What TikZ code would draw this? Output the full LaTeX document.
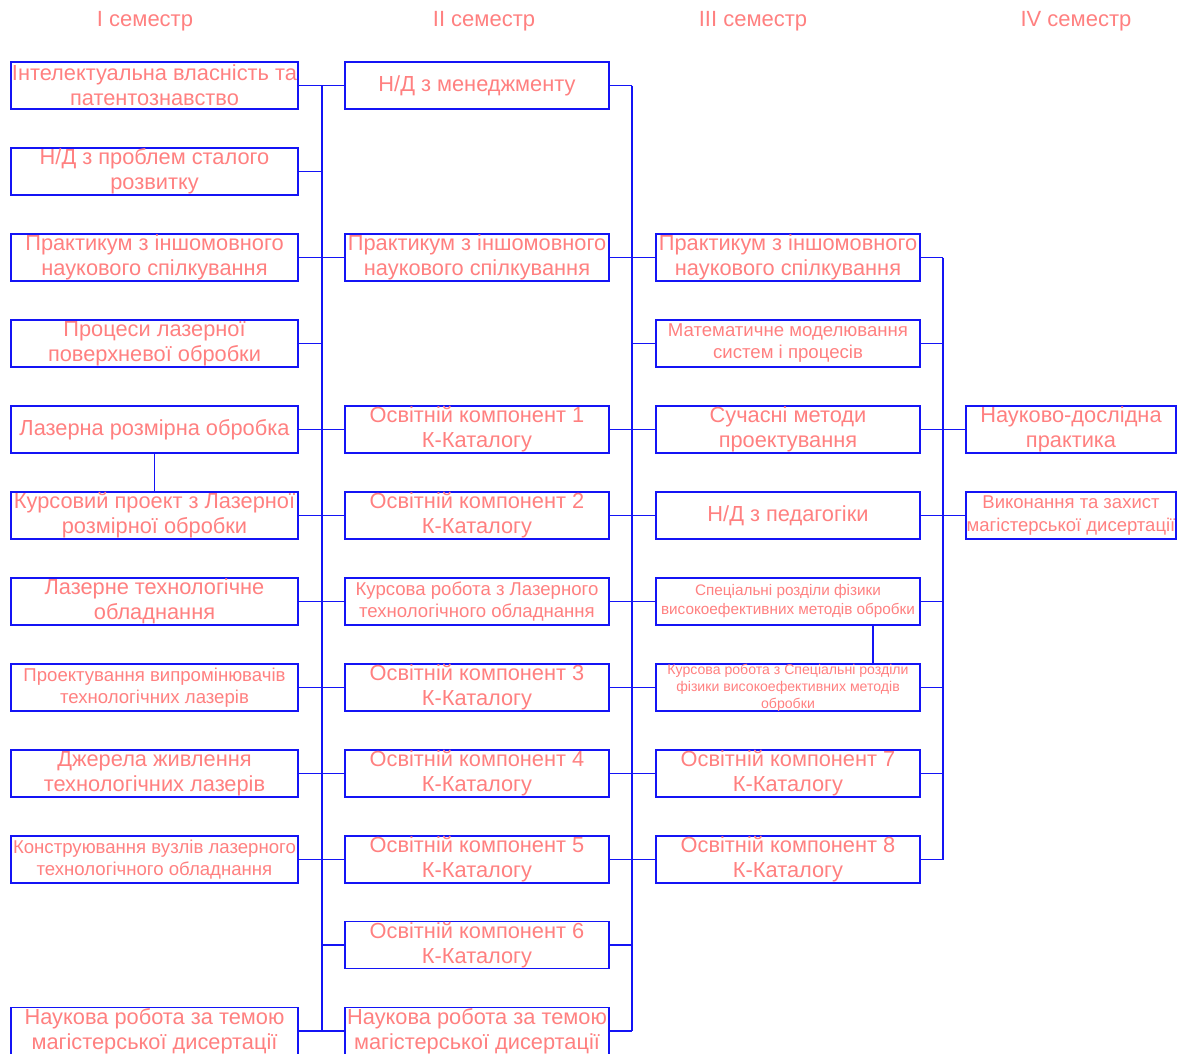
\documentclass[tikz,border=0pt]{standalone}
\usepackage{fontspec}
\setmainfont{Liberation Sans}
\usepackage{tikz}

\definecolor{busblue}{RGB}{20,20,245}
\definecolor{labelred}{RGB}{255,128,128}

\begin{document}
\begin{tikzpicture}[x=1pt, y=-1pt,
    cell/.style={draw=busblue, line width=1.3pt, text=labelred, align=center,
      inner sep=0pt, minimum height=47pt, font=\fontsize{21.8}{25}\selectfont},
    colA/.style={cell, minimum width=287pt},
    colB/.style={cell, minimum width=264pt},
    colC/.style={cell, minimum width=264pt},
    colD/.style={cell, minimum width=210pt},
    smaller/.style={font=\fontsize{18.6}{22}\selectfont},
    sem/.style={text=labelred, font=\fontsize{22}{26}\selectfont},
    bus/.style={draw=busblue, line width=1.3pt}]
    \useasboundingbox (0,0) rectangle (1185,1053);

    \def\xa{154.5}
    \def\xb{477}
    \def\xc{788}
    \def\xd{1071}

    \node[sem] (s1) at (145,21) {I семестр};
    \node[sem] (s2) at (484,21) {II семестр};
    \node[sem] (s3) at (753,21) {III семестр};
    \node[sem] (s4) at (1076,21) {IV семестр};

    % I semester
    \node[colA] (a1) at (\xa,85.5) {Інтелектуальна власність та\\патентознавство};
    \node[colA] (a2) at (\xa,171.5) {Н/Д з проблем сталого\\розвитку};
    \node[colA] (a3) at (\xa,257.5) {Практикум з іншомовного\\наукового спілкування};
    \node[colA] (a4) at (\xa,343.5) {Процеси лазерної\\поверхневої обробки};
    \node[colA] (a5) at (\xa,429.5) {Лазерна розмірна обробка};
    \node[colA] (a6) at (\xa,515.5) {Курсовий проект з Лазерної\\розмірної обробки};
    \node[colA] (a7) at (\xa,601.5) {Лазерне технологічне\\обладнання};
    \node[colA, smaller] (a8) at (\xa,687.5) {Проектування випромінювачів\\технологічних лазерів};
    \node[colA] (a9) at (\xa,773.5) {Джерела живлення\\технологічних лазерів};
    \node[colA, smaller] (a10) at (\xa,859.5) {Конструювання вузлів лазерного\\технологічного обладнання};
    \node[colA] (a12) at (\xa,1031) {Наукова робота за темою\\магістерської дисертації};

    % II semester
    \node[colB] (b1) at (\xb,85.5) {Н/Д з менеджменту};
    \node[colB] (b3) at (\xb,257.5) {Практикум з іншомовного\\наукового спілкування};
    \node[colB] (b5) at (\xb,429.5) {Освітній компонент 1\\К-Каталогу};
    \node[colB] (b6) at (\xb,515.5) {Освітній компонент 2\\К-Каталогу};
    \node[colB, smaller] (b7) at (\xb,601.5) {Курсова робота з Лазерного\\технологічного обладнання};
    \node[colB] (b8) at (\xb,687.5) {Освітній компонент 3\\К-Каталогу};
    \node[colB] (b9) at (\xb,773.5) {Освітній компонент 4\\К-Каталогу};
    \node[colB] (b10) at (\xb,859.5) {Освітній компонент 5\\К-Каталогу};
    \node[colB] (b11) at (\xb,945) {Освітній компонент 6\\К-Каталогу};
    \node[colB] (b12) at (\xb,1031) {Наукова робота за темою\\магістерської дисертації};

    % III semester
    \node[colC] (c3) at (\xc,257.5) {Практикум з іншомовного\\наукового спілкування};
    \node[colC, smaller] (c4) at (\xc,343.5) {Математичне моделювання\\систем і процесів};
    \node[colC] (c5) at (\xc,429.5) {Сучасні методи\\проектування};
    \node[colC] (c6) at (\xc,515.5) {Н/Д з педагогіки};
    \node[colC, font=\fontsize{15.3}{19}\selectfont] (c7) at (\xc,601.5) {Спеціальні розділи фізики\\високоефективних методів обробки};
    \node[colC, font=\fontsize{14.1}{17}\selectfont] (c8) at (\xc,687.5) {Курсова робота з Спеціальні розділи\\фізики високоефективних методів\\обробки};
    \node[colC] (c9) at (\xc,773.5) {Освітній компонент 7\\К-Каталогу};
    \node[colC] (c10) at (\xc,859.5) {Освітній компонент 8\\К-Каталогу};

    % IV semester
    \node[colD] (d5) at (\xd,429.5) {Науково-дослідна\\практика};
    \node[colD, font=\fontsize{18.5}{23}\selectfont] (d6) at (\xd,515.5) {Виконання та захист\\магістерської дисертації};

    % buses
    \coordinate (busA) at (322,85.5);
    \coordinate (busAend) at (322,1031);
    \coordinate (busB) at (632,85.5);
    \coordinate (busBend) at (632,1031);
    \coordinate (busC) at (943,257.5);
    \coordinate (busCend) at (943,859.5);

    \draw[bus] (busA) -- (busAend);
    \draw[bus] (busB) -- (busBend);
    \draw[bus] (busC) -- (busCend);

    \foreach \n in {a1,a2,a3,a4,a5,a6,a7,a8,a9,a10,a12}
      \draw[bus] (\n.east) -- (\n.east -| busA);
    \foreach \n in {b1,b3,b5,b6,b7,b8,b9,b10,b11,b12} {
      \draw[bus] (\n.west) -- (\n.west -| busA);
      \draw[bus] (\n.east) -- (\n.east -| busB);
    }
    \foreach \n in {c3,c4,c5,c6,c7,c8,c9,c10} {
      \draw[bus] (\n.west) -- (\n.west -| busB);
      \draw[bus] (\n.east) -- (\n.east -| busC);
    }
    \foreach \n in {d5,d6}
      \draw[bus] (\n.west) -- (\n.west -| busC);

    \draw[bus] (a5) -- (a6);
    \draw[bus] (c7.south -| 873,0) -- (c8.north -| 873,0);
\end{tikzpicture}
\end{document}
